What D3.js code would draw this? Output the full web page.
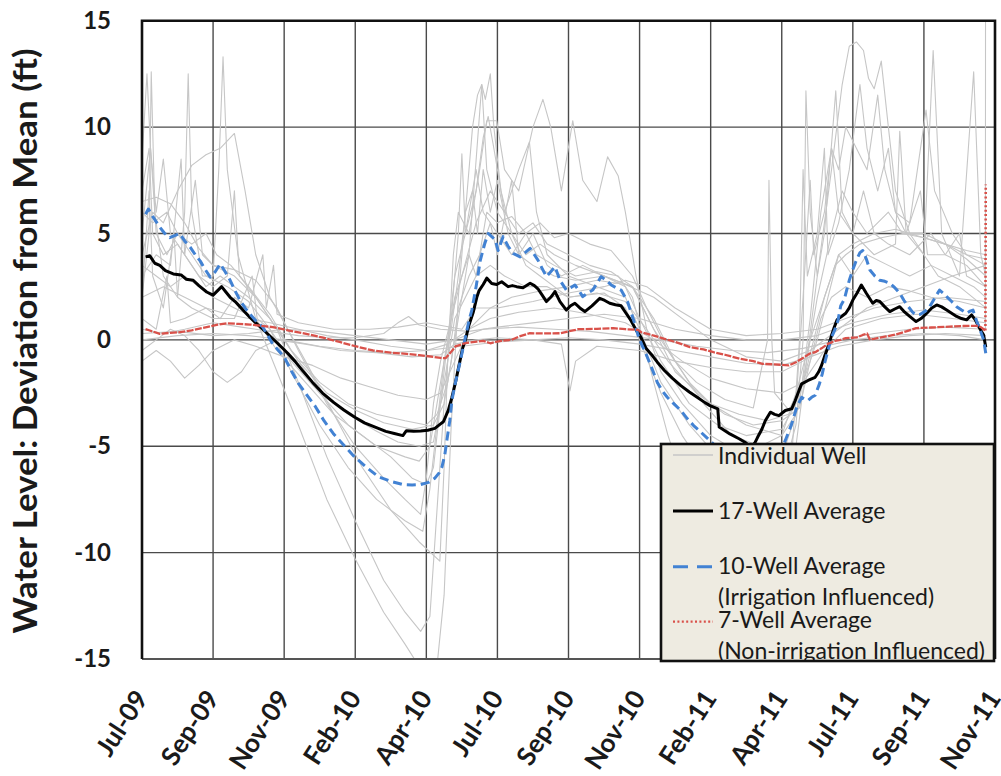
<!DOCTYPE html>
<html>
<head>
<meta charset="utf-8">
<script src="https://cdn.jsdelivr.net/npm/d3@7"></script>
<style>
  body { margin: 0; background: #fff; }
  svg { display: block; }
  text { font-family: Lato, "Open Sans", sans-serif; fill: #1a1a1a; }
</style>
</head>
<body>
<svg id="chart" width="1001" height="776"></svg>
<script>
// Time t is measured in axis intervals (about 73.5 days each) from 1 Jul 2009.
const tickLabels = ["Jul-09","Sep-09","Nov-09","Feb-10","Apr-10","Jul-10","Sep-10",
                    "Nov-10","Feb-11","Apr-11","Jul-11","Sep-11","Nov-11"];
const yTicks = [-15, -10, -5, 0, 5, 10, 15];
const yTitle = "Water Level: Deviation from Mean (ft)";

// 17-well average [t, ft]
const avg17 = [[0.05,3.9],[0.11,3.95],[0.18,3.6],[0.25,3.5],[0.33,3.25],[0.44,3.1],[0.55,3.05],[0.62,2.85],
  [0.72,2.8],[0.8,2.55],[0.91,2.25],[1.0,2.1],[1.06,2.3],[1.12,2.5],[1.18,2.25],[1.24,2.0],[1.31,1.8],
  [1.38,1.55],[1.45,1.3],[1.52,1.05],[1.6,0.8],[1.7,0.5],[1.84,0.05],[1.95,-0.3],[2.05,-0.63],[2.15,-1.0],
  [2.25,-1.41],[2.4,-2.0],[2.54,-2.5],[2.7,-2.95],[2.84,-3.3],[3.0,-3.65],[3.13,-3.9],[3.28,-4.1],
  [3.43,-4.3],[3.55,-4.4],[3.67,-4.5],[3.72,-4.27],[3.82,-4.3],[3.92,-4.28],[4.02,-4.25],[4.12,-4.16],
  [4.2,-3.95],[4.24,-3.85],[4.31,-3.3],[4.36,-2.7],[4.41,-2.0],[4.46,-1.2],[4.51,-0.4],[4.55,0.0],
  [4.6,0.7],[4.66,1.3],[4.71,2.0],[4.74,2.3],[4.8,2.6],[4.85,2.9],[4.92,2.65],[4.99,2.6],[5.06,2.73],
  [5.15,2.5],[5.21,2.55],[5.27,2.5],[5.36,2.45],[5.46,2.66],[5.52,2.55],[5.57,2.4],[5.63,2.1],[5.69,1.8],
  [5.75,2.0],[5.81,2.27],[5.88,1.8],[5.97,1.4],[6.03,1.6],[6.09,1.72],[6.16,1.5],[6.23,1.33],[6.33,1.6],
  [6.44,1.95],[6.51,1.85],[6.58,1.72],[6.66,1.65],[6.74,1.6],[6.81,1.25],[6.88,0.9],[6.95,0.47],
  [7.02,0.12],[7.09,-0.4],[7.16,-0.66],[7.25,-1.05],[7.35,-1.44],[7.46,-1.8],[7.58,-2.15],[7.7,-2.45],
  [7.81,-2.7],[7.92,-2.95],[7.99,-3.09],[8.1,-3.24],[8.12,-4.1],[8.27,-4.42],[8.4,-4.65],[8.5,-4.85],
  [8.57,-5.05],[8.62,-4.85],[8.66,-4.58],[8.72,-4.2],[8.77,-3.79],[8.84,-3.4],[8.9,-3.5],[8.96,-3.56],
  [9.05,-3.32],[9.14,-3.24],[9.19,-2.85],[9.24,-2.4],[9.28,-2.07],[9.37,-1.91],[9.47,-1.76],[9.52,-1.5],
  [9.56,-1.2],[9.6,-0.8],[9.65,-0.34],[9.7,0.2],[9.74,0.6],[9.78,0.95],[9.84,1.1],[9.9,1.25],[9.95,1.5],
  [10.0,1.87],[10.06,2.2],[10.12,2.58],[10.19,2.19],[10.28,1.72],[10.33,1.85],[10.38,1.8],[10.45,1.55],
  [10.52,1.33],[10.59,1.45],[10.66,1.56],[10.73,1.3],[10.8,1.1],[10.89,0.86],[10.96,1.0],[11.04,1.25],
  [11.11,1.5],[11.18,1.64],[11.25,1.55],[11.32,1.4],[11.39,1.25],[11.46,1.1],[11.53,1.0],[11.6,0.94],
  [11.67,1.17],[11.72,0.95],[11.76,0.7],[11.8,0.45],[11.84,0.23],[11.87,-0.35]];

// 10-well average (irrigation influenced)
const avg10 = [[0.05,5.9],[0.09,6.15],[0.15,5.8],[0.25,5.3],[0.32,5.0],[0.39,4.8],[0.46,4.9],[0.53,5.0],
  [0.6,4.65],[0.68,4.35],[0.75,4.0],[0.82,3.7],[0.89,3.3],[0.96,2.95],[1.03,3.2],[1.1,3.57],[1.17,3.2],
  [1.24,2.8],[1.31,2.3],[1.38,1.85],[1.45,1.5],[1.52,1.2],[1.6,0.9],[1.7,0.6],[1.77,0.2],[1.84,-0.2],
  [1.92,-0.5],[2.0,-0.8],[2.1,-1.45],[2.2,-2.04],[2.32,-2.6],[2.44,-3.14],[2.56,-3.8],[2.69,-4.4],
  [2.84,-4.95],[2.99,-5.5],[3.16,-6.0],[3.33,-6.44],[3.5,-6.65],[3.67,-6.8],[3.8,-6.82],[3.92,-6.8],
  [4.03,-6.7],[4.12,-6.5],[4.18,-6.25],[4.22,-5.97],[4.26,-5.4],[4.29,-4.7],[4.33,-3.8],[4.36,-2.83],
  [4.41,-2.0],[4.46,-1.26],[4.51,-0.5],[4.56,0.3],[4.6,0.9],[4.64,1.4],[4.7,2.5],[4.76,3.75],[4.82,4.5],
  [4.87,5.0],[4.92,4.85],[4.97,4.7],[5.01,4.2],[5.08,4.85],[5.15,4.4],[5.22,4.06],[5.32,3.9],[5.39,4.1],
  [5.46,4.3],[5.52,4.0],[5.57,3.75],[5.63,3.35],[5.69,2.97],[5.75,3.2],[5.81,3.44],[5.88,2.8],[5.97,2.34],
  [6.03,2.45],[6.09,2.58],[6.15,2.3],[6.2,2.03],[6.27,2.2],[6.34,2.34],[6.4,2.65],[6.46,2.97],[6.53,2.8],
  [6.6,2.58],[6.67,2.45],[6.74,2.34],[6.83,1.8],[6.88,1.3],[6.93,0.78],[6.98,0.2],[7.04,-0.3],[7.07,-0.5],
  [7.12,-0.9],[7.18,-1.4],[7.25,-2.0],[7.32,-2.4],[7.39,-2.7],[7.48,-3.0],[7.58,-3.32],[7.67,-3.7],
  [7.76,-4.03],[7.85,-4.3],[7.94,-4.58],[8.04,-4.9],[8.2,-5.4],[8.4,-5.9],[8.6,-6.2],[8.8,-6.1],
  [8.95,-5.4],[9.05,-4.73],[9.1,-4.3],[9.14,-3.95],[9.21,-3.17],[9.28,-2.7],[9.33,-2.8],[9.37,-2.85],
  [9.42,-2.7],[9.47,-2.6],[9.53,-2.07],[9.57,-1.6],[9.6,-1.13],[9.65,-0.5],[9.7,0.12],[9.75,0.5],
  [9.79,0.9],[9.83,1.6],[9.88,1.9],[9.95,2.8],[10.0,3.3],[10.05,3.75],[10.1,4.1],[10.14,4.2],[10.19,3.8],
  [10.24,3.28],[10.31,3.0],[10.38,2.8],[10.45,2.75],[10.52,2.66],[10.59,2.45],[10.66,2.19],[10.72,1.85],
  [10.78,1.56],[10.84,1.3],[10.89,1.17],[10.95,1.2],[11.02,1.35],[11.08,1.56],[11.15,1.95],[11.22,2.34],
  [11.27,2.2],[11.32,2.03],[11.39,1.8],[11.46,1.56],[11.53,1.4],[11.6,1.25],[11.65,1.35],[11.69,1.4],
  [11.74,0.9],[11.79,0.47],[11.84,0.0],[11.87,-0.63]];

// 7-well average (non-irrigation influenced)
const avg7 = [[0.05,0.5],[0.11,0.44],[0.25,0.28],[0.4,0.33],[0.53,0.36],[0.7,0.45],[0.91,0.6],[1.05,0.7],
  [1.19,0.78],[1.35,0.75],[1.52,0.72],[1.68,0.66],[1.84,0.6],[2.05,0.45],[2.31,0.28],[2.55,0.1],
  [2.78,-0.1],[3.0,-0.3],[3.25,-0.5],[3.5,-0.6],[3.72,-0.66],[3.9,-0.72],[4.1,-0.8],[4.2,-0.85],
  [4.27,-0.86],[4.34,-0.6],[4.41,-0.31],[4.55,-0.15],[4.71,-0.08],[4.8,-0.05],[4.9,-0.16],[5.05,-0.05],
  [5.2,0.0],[5.3,0.15],[5.45,0.31],[5.65,0.3],[5.89,0.31],[6.0,0.4],[6.14,0.5],[6.4,0.52],[6.63,0.55],
  [6.8,0.5],[6.98,0.47],[7.02,0.36],[7.2,0.2],[7.35,0.05],[7.5,-0.1],[7.71,-0.34],[7.9,-0.45],
  [8.04,-0.58],[8.2,-0.7],[8.41,-0.89],[8.6,-1.0],[8.73,-1.13],[8.9,-1.15],[9.1,-1.2],[9.2,-1.05],
  [9.28,-0.89],[9.39,-0.65],[9.47,-0.58],[9.56,-0.4],[9.65,-0.19],[9.75,-0.05],[9.83,0.0],[9.9,0.08],
  [10.06,0.12],[10.14,0.23],[10.2,0.3],[10.24,0.02],[10.3,0.05],[10.47,0.16],[10.6,0.25],[10.75,0.4],
  [10.89,0.55],[11.1,0.58],[11.36,0.62],[11.55,0.65],[11.74,0.66],[11.8,0.6],[11.84,0.5],[11.865,0.44],
  [11.87,7.3]];

// Individual wells, irrigation influenced
const well01 = [[0,2],[0.1,5],[0.13,12.6],[0.18,6],[0.3,3],[0.5,2],[0.6,6],[0.65,12.5],[0.7,6],[0.85,3],
  [1.0,3],[1.08,8],[1.14,13.3],[1.2,8],[1.35,4],[1.6,1],[1.9,-1.5],[2.2,-4],[2.6,-7.5],[3.0,-10.3],
  [3.4,-12.8],[3.7,-14.3],[3.87,-15.2],[4.1,-17],[4.25,-12],[4.35,-4],[4.45,2],[4.55,6],[4.65,10],
  [4.72,11.5],[4.78,12],[4.83,11.3],[4.9,12.5],[4.95,10],[5.05,7],[5.2,5],[5.4,3.5],[5.6,3],[5.8,2.5],
  [6.0,2],[6.5,2.2],[6.8,1.5],[7.0,0],[7.3,-2.5],[7.6,-4.5],[7.9,-6],[8.3,-8],[8.7,-9],[9.0,-9],
  [9.2,-5],[9.35,-1],[9.5,3],[9.7,8],[9.85,12],[9.95,13.8],[10.05,14],[10.15,13.6],[10.22,12.3],
  [10.3,11.8],[10.4,13.1],[10.5,10],[10.6,7],[10.8,5],[11.0,4],[11.2,3],[11.5,2.5],[11.87,1.5]];
const well02 = [[0,5],[0.12,9],[0.2,6],[0.3,8.5],[0.4,5],[0.6,4],[0.75,7.5],[0.85,4],[1.0,3.5],[1.3,3],
  [1.6,2],[1.9,0.5],[2.2,-2],[2.6,-5.5],[3.0,-8.5],[3.4,-11.3],[3.7,-12.8],[3.92,-13.7],[4.05,-13],
  [4.15,-8],[4.25,-3],[4.35,1],[4.45,5],[4.5,8.75],[4.55,5],[4.7,7],[4.8,9.5],[4.87,10.5],[4.95,9],
  [5.1,6],[5.3,8],[5.45,9.3],[5.55,6],[5.7,4],[6.0,3],[6.4,2.5],[6.8,2],[7.0,0.5],[7.3,-2],[7.7,-4],
  [8.1,-5.5],[8.5,-6.5],[9.0,-6.5],[9.2,-4],[9.3,0],[9.34,11.7],[9.4,6],[9.5,3],[9.6,5],[9.76,11.7],
  [9.85,6],[10.0,5],[10.3,4],[10.6,4.5],[10.66,9.8],[10.75,5],[11.0,4],[11.13,13.6],[11.25,5],[11.5,3],
  [11.7,12.6],[11.8,4],[11.87,3]];
const well03 = [[0,4],[0.15,6],[0.3,5.5],[0.5,7],[0.7,8.2],[0.9,8.7],[1.1,9],[1.3,9.7],[1.45,7],[1.6,4],
  [1.8,2],[2.0,0.8],[2.3,-1],[2.7,-3.5],[3.1,-6],[3.5,-8],[3.9,-9.5],[4.19,-10.4],[4.25,-6],[4.3,-1],
  [4.38,4],[4.45,6],[4.6,5],[4.75,8],[4.85,10.3],[4.99,10.3],[5.1,8],[5.3,7],[5.5,10],[5.64,11.3],
  [5.75,10],[5.9,7],[6.06,10.3],[6.2,7.5],[6.4,6.5],[6.55,8.6],[6.7,7.7],[6.8,6],[6.95,3],[7.1,0.5],
  [7.3,-1.5],[7.6,-3],[8.0,-4.5],[8.5,-5.5],[9.0,-5.5],[9.25,-3],[9.4,1],[9.55,6],[9.7,9],[9.8,8],
  [9.9,10],[10.05,9],[10.2,8],[10.35,11.5],[10.45,8],[10.6,6],[10.8,5.5],[11.03,10.8],[11.15,7],
  [11.4,5],[11.6,4],[11.87,3.5]];
const well04 = [[0,8.5],[0.07,12.5],[0.12,9],[0.2,5],[0.35,4],[0.5,5],[0.7,4],[0.9,3],[1.2,2.5],[1.5,1.8],
  [1.8,0.5],[2.1,-1.5],[2.5,-4],[2.9,-6],[3.3,-7.5],[3.7,-8.5],[3.95,-9],[4.05,-7],[4.15,-4],[4.25,-1],
  [4.4,2],[4.6,4],[4.78,12],[4.85,8],[5.0,6],[5.2,5],[5.4,4],[5.6,4.5],[5.8,4],[6.1,3.5],[6.5,3],
  [6.9,2.5],[7.2,0.5],[7.5,-1.5],[8.0,-3],[8.5,-4],[9.0,-4.5],[9.2,-3.5],[9.35,-1],[9.5,2],[9.7,5],
  [9.85,7],[10.0,6],[10.2,5],[10.5,6],[10.7,5],[11.0,5],[11.3,4.5],[11.6,4],[11.87,3.8]];
const well05 = [[0,6.5],[0.2,6.7],[0.4,6.4],[0.6,5.5],[0.8,4.3],[1.0,3.5],[1.3,3.3],[1.6,2.8],[1.9,1.5],
  [2.2,-0.5],[2.6,-3],[3.0,-5],[3.4,-6.5],[3.7,-7.5],[3.92,-8.2],[4.0,-6.5],[4.1,-3],[4.2,-1],[4.35,1],
  [4.5,3],[4.7,5.5],[4.9,7],[5.1,6],[5.3,5],[5.5,5.5],[5.7,4.5],[6.0,4],[6.3,3.5],[6.6,3.2],[6.9,2.5],
  [7.2,1],[7.5,-1],[7.9,-3],[8.3,-4.5],[8.7,-5],[9.0,-4.5],[9.2,-2.5],[9.4,0],[9.6,2],[9.8,4],[10.0,4.5],
  [10.3,5],[10.6,5.2],[11.0,4.8],[11.3,4.5],[11.6,3.8],[11.87,3]];
const well06 = [[0,7],[0.1,9],[0.15,5],[0.3,4],[0.5,4.5],[0.7,3.5],[0.9,2.5],[1.1,3],[1.3,2.5],[1.5,2],
  [1.8,1],[2.1,-0.5],[2.5,-2.5],[2.9,-4],[3.3,-5],[3.7,-5.5],[3.9,-5.7],[4.05,-5],[4.15,-3],[4.25,-1],
  [4.35,0.5],[4.45,3],[4.55,6],[4.65,7],[4.72,5],[4.8,8],[4.9,6],[5.0,7.5],[5.15,5],[5.3,4],[5.5,5],
  [5.7,3.5],[5.9,3],[6.2,3.5],[6.5,3],[6.8,2.5],[7.0,1],[7.3,-1],[7.7,-3],[8.1,-4],[8.5,-4.5],[9.0,-4.2],
  [9.2,-3],[9.3,2],[9.4,7.5],[9.45,4],[9.6,6],[9.7,9],[9.8,6],[10.0,5],[10.15,7],[10.3,5],[10.5,4.5],
  [10.8,4],[11.1,5],[11.3,4],[11.6,3.5],[11.87,2.5]];
const well07 = [[0,3],[0.2,4],[0.4,3.5],[0.55,8.5],[0.6,4],[0.8,3],[1.0,2.5],[1.2,3],[1.3,7],[1.37,3],
  [1.6,2],[1.9,0.5],[2.2,-1],[2.6,-2.5],[3.0,-3.3],[3.4,-3.9],[3.8,-4.2],[4.1,-4],[4.25,-3],[4.35,-1],
  [4.45,1.5],[4.6,3],[4.75,4],[4.9,5.5],[5.0,4],[5.2,7.5],[5.3,4],[5.5,3.5],[5.8,3],[6.1,2.8],[6.5,3],
  [6.9,2.5],[7.2,0.5],[7.5,-1],[7.8,-2],[8.2,-2.8],[8.6,-3.2],[8.8,0],[8.82,7.5],[8.86,0],[8.9,-2.5],
  [9.1,-3.3],[9.3,-2],[9.5,0],[9.65,2],[9.8,4],[10.0,3],[10.2,4],[10.5,3.5],[10.8,3],[11.1,3.5],
  [11.4,3],[11.7,2.5],[11.87,2]];
const well08 = [[0,2],[0.1,7],[0.15,3],[0.3,1.5],[0.45,5],[0.5,2],[0.7,1.5],[1.0,1],[1.3,1],[1.55,3],
  [1.62,1],[1.8,0.5],[2.1,-1],[2.5,-2.5],[2.9,-3.5],[3.3,-4.3],[3.6,-4.8],[3.9,-5],[4.1,-4.8],[4.2,-3],
  [4.3,-1],[4.4,1],[4.55,2],[4.7,3],[4.9,3.5],[5.1,3],[5.4,2.5],[5.7,2.5],[6.0,2],[6.4,2.2],[6.8,1.8],
  [7.1,0.5],[7.4,-1],[7.8,-2.5],[8.2,-3.5],[8.6,-4],[9.0,-3.8],[9.25,-3.2],[9.4,-1],[9.55,1],[9.7,2],
  [9.9,2.5],[10.2,2],[10.5,2.5],[10.8,2.3],[11.1,2],[11.5,1.8],[11.87,1.5]];
const well09 = [[0,3.5],[0.2,3],[0.4,2.5],[0.6,3],[0.8,2.5],[1.0,2],[1.3,1.5],[1.6,1],[1.9,-0.5],[2.3,-2],
  [2.7,-3.5],[3.1,-4.5],[3.5,-5.5],[3.8,-6.5],[4.0,-6.8],[4.1,-6],[4.2,-3],[4.3,0],[4.4,3],[4.55,5],
  [4.7,8],[4.8,6],[5.0,5],[5.2,4],[5.4,5],[5.55,4],[5.8,3.5],[6.1,3],[6.4,3.2],[6.7,3],[6.9,2],[7.05,0],
  [7.2,-2],[7.4,-4.5],[7.6,-6.5],[7.9,-8],[8.3,-9.5],[8.7,-10],[9.0,-9],[9.15,-5],[9.25,0],[9.3,8],
  [9.36,3],[9.5,5],[9.6,9],[9.65,4],[9.8,5.5],[9.95,8],[10.1,12],[10.2,9],[10.35,7],[10.5,9],[10.6,6],
  [10.75,5],[10.95,7],[11.05,4],[11.3,4],[11.5,5],[11.6,3],[11.87,2.5]];
const well10 = [[0,6],[0.15,5.5],[0.35,6],[0.5,5],[0.7,4.5],[0.9,5],[1.05,4],[1.25,3.5],[1.5,2.5],[1.8,1.2],
  [2.1,-0.5],[2.5,-2],[2.9,-3],[3.3,-3.5],[3.7,-3.8],[4.0,-4],[4.15,-3.5],[4.3,-2],[4.4,0],[4.5,2],
  [4.6,4],[4.7,3],[4.85,6],[5.0,5.5],[5.2,5.8],[5.4,5],[5.6,5.5],[5.8,4.8],[6.0,5],[6.3,4.5],[6.6,4.2],
  [6.9,3],[7.1,1.5],[7.4,-0.5],[7.7,-2],[8.0,-3],[8.4,-3.5],[8.8,-3.8],[9.1,-3.5],[9.3,-2],[9.45,0],
  [9.6,2],[9.75,3.5],[9.9,4],[10.1,4.5],[10.4,4.8],[10.7,5],[11.0,4.8],[11.3,4.5],[11.6,4.2],[11.87,4]];

// Individual wells, not irrigation influenced
const well11 = [[0,0.5],[0.3,0.3],[0.6,0.5],[1.0,0.8],[1.4,0.6],[1.8,0.4],[2.2,0.2],[2.6,0.1],[3.0,0.1],
  [3.4,0.3],[3.6,0.8],[3.75,1.1],[3.9,0.7],[4.2,0.5],[4.6,0.4],[5.0,0.6],[5.5,0.8],[6.0,1],[6.5,1.2],
  [7.0,1],[7.5,0.5],[8.0,0.2],[8.5,0],[9.0,0],[9.5,0.2],[10.0,0.8],[10.5,1.2],[11.0,1.4],[11.5,1.2],
  [11.87,1]];
const well12 = [[0,-0.5],[0.2,0],[0.4,0.5],[0.6,0.2],[0.8,-0.5],[1.0,-1.5],[1.2,-2],[1.4,-1.5],[1.6,-0.5],
  [1.9,0],[2.3,-0.2],[2.8,-0.5],[3.3,-0.6],[3.8,-0.8],[4.2,-0.7],[4.4,-0.2],[4.7,0],[5.0,0.1],[5.5,0],
  [5.9,-0.2],[6.02,-2.4],[6.1,-1],[6.4,-0.3],[7.0,-0.5],[7.5,-1],[8.0,-1.3],[8.5,-1.5],[9.0,-1.5],
  [9.3,-1],[9.6,-0.3],[10.0,0],[10.5,0.2],[11.0,0.3],[11.5,0.2],[11.87,0]];
const well13 = [[0,1],[0.2,0.5],[0.35,3],[0.4,0.8],[0.6,1],[0.9,1.5],[1.1,1],[1.3,2],[1.5,1.5],[1.7,4],
  [1.75,1.5],[1.85,3.5],[1.9,1.2],[2.2,0.8],[2.7,0.5],[3.2,0.5],[3.6,0.6],[4.0,0.8],[4.5,0.5],[4.7,1.5],
  [5.0,1.5],[5.5,1.8],[6.0,2.2],[6.5,2.5],[6.8,2.8],[7.1,2.5],[7.5,1.5],[8.0,0.5],[8.5,0.2],[9.0,0.3],
  [9.5,0.5],[9.9,1],[10.3,1.5],[10.8,1.8],[11.3,2],[11.87,1.8]];
const well14 = [[0,0],[0.5,0.2],[1.0,0.3],[1.5,0.2],[2.0,0],[2.5,-0.3],[3.0,-0.5],[3.5,-0.6],[4.0,-0.5],
  [4.5,-0.3],[5.0,-0.1],[5.5,0],[6.0,0.1],[6.5,0],[7.0,-0.2],[7.5,-0.5],[8.0,-0.8],[8.5,-1.1],[9.0,-1.2],
  [9.4,-0.8],[9.8,-0.3],[10.3,0],[10.8,0.2],[11.3,0.3],[11.87,0.2]];
const well15 = [[0,2],[0.3,2.5],[0.6,2],[0.9,1.5],[1.2,1.2],[1.5,1],[1.8,0.8],[2.2,0.5],[2.6,0.2],[3.0,0],
  [3.5,-0.3],[4.0,-0.5],[4.3,-0.2],[4.6,0.5],[4.9,1.5],[5.2,2],[5.6,2.3],[6.0,2.5],[6.4,2.8],[6.8,2.6],
  [7.2,2],[7.6,1],[8.0,0],[8.5,-0.8],[9.0,-1],[9.4,-0.5],[9.8,0.5],[10.2,1.5],[10.6,2],[11.0,2.5],
  [11.4,3],[11.87,3.5]];
const well16 = [[0,0.3],[0.5,0.4],[1.0,0.2],[1.5,0.3],[2.0,0.5],[2.5,0.4],[3.0,0.2],[3.5,0],[4.0,-0.2],
  [4.4,0],[4.8,0.5],[5.3,0.6],[5.8,0.5],[6.3,0.4],[6.8,0.2],[7.3,0],[7.8,-0.3],[8.3,-0.5],[8.8,-0.6],
  [9.3,-0.4],[9.8,0],[10.3,0.3],[10.8,0.5],[11.3,0.6],[11.865,0.5],[11.87,45]];
const well17 = [[0,-1],[0.2,-0.5],[0.4,-1],[0.6,-1.8],[0.8,-1.2],[1.0,-0.5],[1.3,0],[1.6,-0.3],[2.0,-0.8],
  [2.4,-1.2],[2.8,-1.8],[3.2,-2.2],[3.6,-2.6],[4.0,-2.8],[4.2,-2.5],[4.4,-1],[4.6,0.5],[4.9,1],[5.3,1.3],
  [5.8,1.5],[6.3,1.2],[6.8,0.8],[7.2,0],[7.6,-1],[8.0,-1.8],[8.5,-2.3],[9.0,-2.5],[9.3,-2],[9.6,-0.5],
  [9.9,0.5],[10.4,1],[10.9,1.2],[11.4,1],[11.87,0.8]];

const wells = [well01, well02, well03, well04, well05, well06, well07, well08, well09,
               well10, well11, well12, well13, well14, well15, well16, well17];

const legendItems = [
  { label: ["Individual Well"], kind: "well" },
  { label: ["17-Well Average"], kind: "avg17" },
  { label: ["10-Well Average", "(Irrigation Influenced)"], kind: "avg10" },
  { label: ["7-Well Average", "(Non-irrigation Influenced)"], kind: "avg7" }
];

// ---- drawing ----
const svg = d3.select("#chart");
const plot = { left: 142, right: 995, top: 20.7, bottom: 659 };

const x = d3.scaleLinear().domain([0, tickLabels.length - 1]).range([plot.left, plot.right]);
const y = d3.scaleLinear().domain([d3.min(yTicks), d3.max(yTicks)]).range([plot.bottom, plot.top]);
const line = d3.line().x(d => x(d[0])).y(d => y(d[1]));

const styles = {
  well:  { stroke: "#c6c6c6", width: 1.1, dash: null },
  avg17: { stroke: "#000000", width: 3,   dash: null },
  avg10: { stroke: "#4282d3", width: 3,   dash: "9,5" },
  avg7:  { stroke: "#d9514a", width: 2.3, dash: "7,1.4" }
};

svg.append("rect").attr("width", 1001).attr("height", 776).attr("fill", "#fff");

svg.append("clipPath").attr("id", "plot-clip")
  .append("rect")
  .attr("x", plot.left).attr("y", plot.top)
  .attr("width", plot.right - plot.left).attr("height", plot.bottom - plot.top);

// gridlines
const grid = svg.append("g").attr("stroke", "#4a4a4a").attr("stroke-width", 1.4);
grid.selectAll("line.h").data(yTicks.slice(1, -1)).join("line")
  .attr("x1", plot.left).attr("x2", plot.right)
  .attr("y1", d => y(d)).attr("y2", d => y(d));
grid.selectAll("line.v").data(d3.range(1, tickLabels.length - 1)).join("line")
  .attr("y1", plot.top).attr("y2", plot.bottom)
  .attr("x1", d => x(d)).attr("x2", d => x(d));

// series
const series = svg.append("g").attr("clip-path", "url(#plot-clip)")
  .attr("fill", "none").attr("stroke-linejoin", "round");

series.selectAll("path.well").data(wells).join("path")
  .attr("class", "well")
  .attr("d", line)
  .attr("stroke", styles.well.stroke)
  .attr("stroke-width", styles.well.width);

series.append("path").attr("d", line(avg17))
  .attr("stroke", styles.avg17.stroke).attr("stroke-width", styles.avg17.width);

series.append("path").attr("d", line(avg10))
  .attr("stroke", styles.avg10.stroke).attr("stroke-width", styles.avg10.width)
  .attr("stroke-dasharray", styles.avg10.dash);

series.append("path").attr("d", line(avg7.slice(0, -1)))
  .attr("stroke", styles.avg7.stroke).attr("stroke-width", styles.avg7.width)
  .attr("stroke-dasharray", styles.avg7.dash);
// final reading of the 7-well average, drawn as the dotted line style
series.append("path").attr("d", line(avg7.slice(-2)))
  .attr("stroke", styles.avg7.stroke).attr("stroke-width", 2.6)
  .attr("stroke-dasharray", "2,2.4");

// plot border
svg.append("line").attr("x1", plot.left).attr("x2", plot.right)
  .attr("y1", plot.bottom).attr("y2", plot.bottom)
  .attr("stroke", "#555").attr("stroke-width", 2);
svg.append("path")
  .attr("d", `M${plot.left},${plot.bottom} V${plot.top} H${plot.right} V${plot.bottom}`)
  .attr("fill", "none").attr("stroke", "#111").attr("stroke-width", 2.6);

// y axis
const yAxis = svg.append("g")
  .attr("transform", `translate(${plot.left},0)`)
  .call(d3.axisLeft(y).tickValues(yTicks).tickSize(0).tickPadding(31).tickFormat(d => String(d)));
yAxis.select(".domain").remove();
yAxis.selectAll("text")
  .style("font-size", "24px").style("font-weight", "700")
  .style("font-family", "Lato, 'Open Sans', sans-serif").attr("fill", "#1a1a1a");

// x axis with slanted labels
const xAxis = svg.append("g")
  .attr("transform", `translate(0,${plot.bottom})`)
  .call(d3.axisBottom(x).tickValues(d3.range(tickLabels.length)).tickSize(0)
        .tickFormat(i => tickLabels[i]));
xAxis.select(".domain").remove();
xAxis.selectAll("text")
  .attr("x", 0).attr("y", 0).attr("dy", 0)
  .attr("text-anchor", "end")
  .attr("transform", "translate(6.5,39) rotate(-57)")
  .style("font-size", "26px").style("font-weight", "700")
  .style("font-family", "Lato, 'Open Sans', sans-serif").attr("fill", "#1a1a1a");

// y axis title
svg.append("text")
  .attr("transform", "translate(37,341) rotate(-90)")
  .attr("text-anchor", "middle")
  .attr("textLength", 585)
  .attr("lengthAdjust", "spacingAndGlyphs")
  .style("font-size", "32px").style("font-weight", "700")
  .text(yTitle);

// legend
const lg = { x: 661, y: 444, w: 333, h: 217 };
svg.append("clipPath").attr("id", "legend-clip")
  .append("rect").attr("x", lg.x).attr("y", lg.y).attr("width", lg.w).attr("height", lg.h);
const legend = svg.append("g");
legend.append("rect").attr("x", lg.x).attr("y", lg.y).attr("width", lg.w).attr("height", lg.h)
  .attr("fill", "#eeebe1");
const rowY = [455, 511, 566.7, 621.7];
const textY = [464, 519, 574, 628];
const items = legend.append("g").attr("clip-path", "url(#legend-clip)");
legendItems.forEach((it, i) => {
  const s = styles[it.kind];
  const sym = items.append("line")
    .attr("x1", 673).attr("x2", 713).attr("y1", rowY[i]).attr("y2", rowY[i])
    .attr("stroke", s.stroke).attr("stroke-width", it.kind === "well" ? 1.3 : s.width);
  if (it.kind === "avg10") sym.attr("stroke-dasharray", "15,9");
  if (it.kind === "avg7") sym.attr("stroke-dasharray", "2,2.4").attr("stroke-width", 2.2);
  it.label.forEach((t, j) => {
    items.append("text")
      .attr("x", 718).attr("y", textY[i] + j * 31)
      .style("font-size", "23px")
      .attr("fill", "#222")
      .text(t);
  });
});
legend.append("rect").attr("x", lg.x).attr("y", lg.y).attr("width", lg.w).attr("height", lg.h)
  .attr("fill", "none").attr("stroke", "#111").attr("stroke-width", 2.6);
</script>
</body>
</html>
